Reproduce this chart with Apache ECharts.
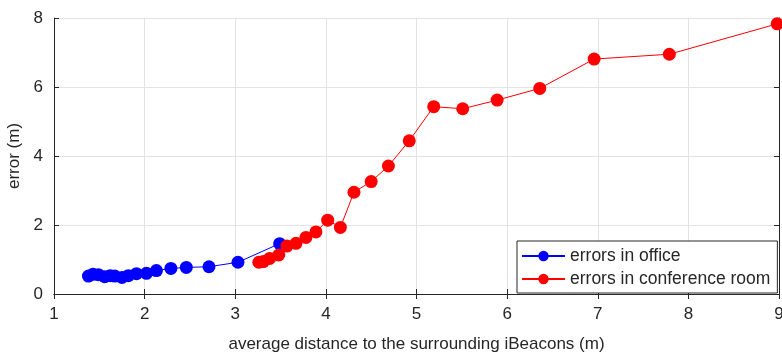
<!DOCTYPE html>
<html>
<head>
<meta charset="utf-8">
<script src="https://cdn.jsdelivr.net/npm/echarts@6/dist/echarts.min.js"></script>
<style>
  html, body { margin: 0; padding: 0; background: #fff; }
  #chart { width: 782px; height: 354px; }
</style>
</head>
<body>
<div id="chart"></div>
<script>
// values
const officeDist = [1.38, 1.43, 1.49, 1.56, 1.62, 1.67, 1.75, 1.82, 1.91, 2.02, 2.13, 2.29, 2.46, 2.71, 3.03, 3.49]
const officeErr = [0.52, 0.57, 0.56, 0.50, 0.53, 0.52, 0.48, 0.53, 0.59, 0.60, 0.68, 0.74, 0.77, 0.79, 0.92, 1.46]
const confDist = [3.26, 3.31, 3.38, 3.48, 3.57, 3.67, 3.78, 3.89, 4.02, 4.16, 4.31, 4.50, 4.69, 4.92, 5.19, 5.51, 5.89, 6.36, 6.96, 7.79, 8.98]
const confErr = [0.92, 0.94, 1.03, 1.13, 1.39, 1.47, 1.64, 1.80, 2.14, 1.93, 2.95, 3.26, 3.71, 4.44, 5.43, 5.37, 5.62, 5.96, 6.81, 6.95, 7.83]

const font = 'Liberation Sans, Arial, Helvetica, sans-serif'
const ink = '#262626'
const gridColor = '#e3e3e3'

function pairs(xs, ys) { return xs.map((x, i) => [x, ys[i]]) }

function ax(extra) {
  return Object.assign({
    type: 'value',
    axisLine: { show: true, lineStyle: { color: ink, width: 1 } },
    axisTick: { show: true, inside: true, length: 5, lineStyle: { color: ink } },
    axisLabel: { color: ink, fontSize: 17, fontFamily: font },
    splitLine: { show: true, lineStyle: { color: gridColor, width: 1 } }
  }, extra)
}

const chart = echarts.init(document.getElementById('chart'), null, { renderer: 'canvas' })
chart.setOption({
  animation: false,
  backgroundColor: '#fff',
  textStyle: { fontFamily: font },
  grid: { left: 54, right: 3, top: 18, bottom: 60, containLabel: false, outerBoundsMode: 'none' },
  legend: {
    orient: 'vertical',
    left: 517, top: 241,
    padding: [6, 7, 5, 4],
    itemWidth: 43, itemHeight: 13, itemGap: 5,
    borderColor: ink, borderWidth: 1, backgroundColor: '#fff',
    textStyle: { fontSize: 17.5, lineHeight: 18, color: ink, fontFamily: font },
    data: ['errors in office', 'errors in conference room']
  },
  xAxis: [
    ax({
      min: 1, max: 9, interval: 1, position: 'bottom',
      name: 'average distance to the surrounding iBeacons (m)',
      nameLocation: 'middle', nameGap: 42,
      nameTextStyle: { fontSize: 17, color: ink, fontFamily: font },
      axisLabel: { color: ink, fontSize: 17, fontFamily: font, margin: 12 }
    }),
    ax({ min: 1, max: 9, interval: 1, position: 'top', axisLabel: { show: false }, splitLine: { show: false } })
  ],
  yAxis: [
    ax({
      min: 0, max: 8, interval: 2, position: 'left',
      name: 'error (m)', nameLocation: 'middle', nameGap: 25,
      nameTextStyle: { fontSize: 17, color: ink, fontFamily: font },
      axisLabel: { color: ink, fontSize: 17, fontFamily: font, margin: 11 }
    }),
    ax({ min: 0, max: 8, interval: 2, position: 'right', axisLabel: { show: false }, splitLine: { show: false } })
  ],
  series: [
    {
      name: 'errors in office', type: 'line',
      data: pairs(officeDist, officeErr),
      symbol: 'circle', symbolSize: 13,
      itemStyle: { color: '#0000ff' },
      lineStyle: { color: '#0000ff', width: 1 },
      z: 2
    },
    {
      name: 'errors in conference room', type: 'line',
      data: pairs(confDist, confErr),
      symbol: 'circle', symbolSize: 13,
      itemStyle: { color: '#ff0000' },
      lineStyle: { color: '#ff0000', width: 1 },
      z: 3
    }
  ]
})
</script>
</body>
</html>
